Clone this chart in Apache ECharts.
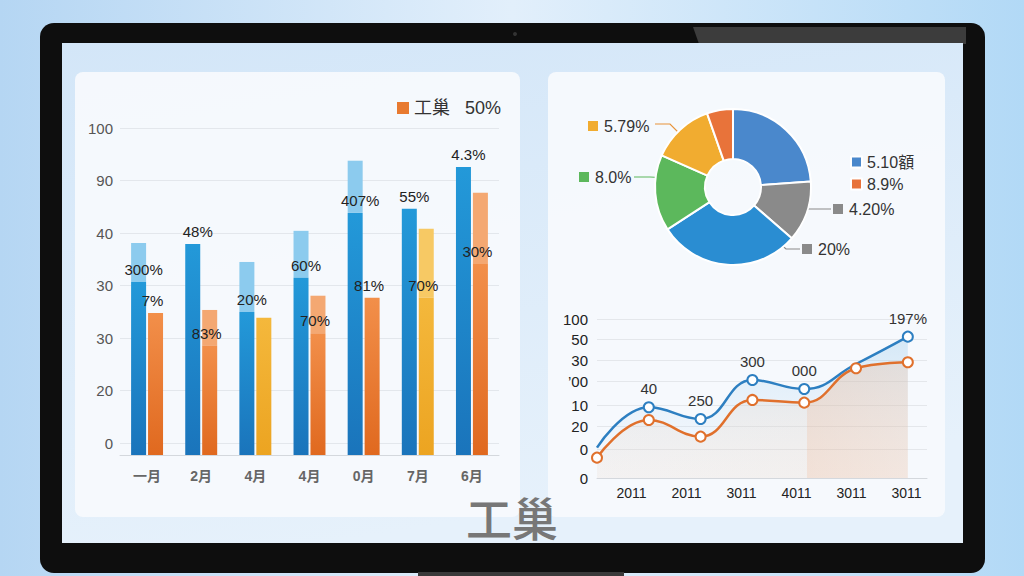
<!DOCTYPE html>
<html><head><meta charset="utf-8">
<script src="https://cdn.jsdelivr.net/npm/echarts@6/dist/echarts.min.js"></script>
<style>html,body{margin:0;padding:0;background:#c4e0f6;}#c{width:1024px;height:576px;}</style>
</head><body><div id="c"></div>
<script>
// ---------- data: bar chart ----------
const barCategories = ['一月','2月','4月','4月','0月','7月','6月'];
const barTickLabels = ['0','20','30','30','40','90','100'];
const blueBase   = [32.8, 40.0, 27.1, 33.6, 45.9, 46.7, 54.6];
const blueTop    = [7.4, 0, 9.5, 8.9, 9.9, 0, 0];
const orangeBase = [26.9, 20.7, 26.0, 23.1, 29.8, 29.8, 36.2];
const orangeTop  = [0, 6.8, 0, 7.1, 0, 13.1, 13.5];
const blueLabels   = ['300%','48%','20%','60%','407%','55%','4.3%'];
const orangeLabels = ['7%','83%','','70%','81%','70%','30%'];
const barLegendName = '工巢   50%';
// ---------- data: pie ----------
const pieNames  = ['5.10額','4.20%','20%','8.0%','5.79%','8.9%'];
const pieValues = [23.9, 12.6, 29.5, 15.8, 13.0, 5.4];
const pieLegendNames = ['5.10額','8.9%'];
// ---------- data: line ----------
const lineCategories = ['2011','2011','3011','4011','3011','3011'];
const lineTickValues = [0, 18.2, 32.3, 45.9, 61, 74.2, 87.2, 100];
const lineTickLabels = ['0','0','20','10','\u201900','30','50','100'];
const blueLine   = [19.1, 44.5, 37.1, 61.6, 56.0, 71.7, 88.9];
const orangeLine = [12.8, 36.5, 26.0, 49.1, 47.4, 69.0, 72.8];
const blueLineLabels = ['','40','250','300','000','15','197%'];
const titleText = '工巢';

// ---------- styles ----------
const FONT = "'Liberation Sans','Noto Sans CJK SC',sans-serif";
const yellowIdx = [2, 5];
const blueNoMarker = [0, 5];
function vg(a, b) { return new echarts.graphic.LinearGradient(0, 0, 0, 1, [{offset:0,color:a},{offset:1,color:b}]); }
const pieColors = ['#4a88cc','#8a8a8a','#2a8dd2','#5cb85c','#f1ac30','#e8733a'];
const pieSquare = ['#4a88cc','#8a8a8a','#8a8a8a','#5cb85c','#f1ac30','#e8733a'];
const pieLineColor = ['#999','#8a8a8a','#8a8a8a','#5cb85c','#e8943a','#999'];
const pieShow = [false, true, true, true, true, false];
const pieLabelPos = {
  1: {x:833, y:209, line:[[793,209],[812,209],[831,209]]},
  2: {x:802, y:249, line:[[769,234],[786,249],[800,249]]},
  3: {x:579, y:177, line:[[668,178],[650,177],[634,177]]},
  4: {x:588, y:126, line:[[687,141],[670,124],[655,124]]}
};
const pieRich = { t: {fontSize:16, color:'#333', padding:[0,0,0,6], fontFamily:FONT} };
pieSquare.forEach((c, i) => { pieRich['s' + i] = {width:10, height:10, backgroundColor:c}; });

const chart = echarts.init(document.getElementById('c'), null, {renderer:'svg'});
const option = {
  animation: false,
  backgroundColor: {type:'linear', x:0, y:0, x2:1, y2:0, colorStops:[
    {offset:0,color:'#b5d6f3'},{offset:0.5,color:'#e2effb'},{offset:1,color:'#b2d9f6'}]},
  graphic: [
    {type:'rect', z:-10, shape:{x:40, y:23, width:945, height:550, r:14}, style:{fill:'#0e0e0e'}},
    {type:'polygon', z:-9, shape:{points:[[693,27],[966,27],[966,44],[699,44]]}, style:{fill:'#3c3c3c'}},
    {type:'circle', z:-9, shape:{cx:515, cy:34, r:2}, style:{fill:'#333'}},
    {type:'rect', z:-9, shape:{x:62, y:43, width:901, height:500},
      style:{fill:{type:'linear', x:0, y:0, x2:0.3, y2:1, colorStops:[{offset:0,color:'#d3e6f8'},{offset:1,color:'#e6f1fb'}]}}},
    {type:'rect', z:-8, shape:{x:75, y:72, width:445, height:445, r:8}, style:{fill:'rgba(247,250,253,0.92)'}},
    {type:'rect', z:-8, shape:{x:548, y:72, width:397, height:445, r:8}, style:{fill:'rgba(247,250,253,0.92)'}},
    {type:'rect', z:-10, shape:{x:418, y:572, width:206, height:6}, style:{fill:'#3a3a3a'}}
  ],
  title: {text:titleText, left:'center', top:493, padding:0,
    textStyle:{fontSize:46, lineHeight:46, color:'#777', fontWeight:500, fontFamily:"'Noto Sans CJK SC',sans-serif"}},
  legend: [
    {data:[{name:barLegendName, itemStyle:{color:'#e87a30'}}], left:392, top:94, icon:'rect',
      itemWidth:12, itemHeight:12, selectedMode:false,
      textStyle:{fontSize:18, color:'#333', fontFamily:FONT}},
    {data:pieLegendNames, left:845, top:149, orient:'vertical', icon:'rect', itemWidth:11, itemHeight:11,
      itemGap:6, selectedMode:false, textStyle:{fontSize:16, color:'#333', fontFamily:FONT}}
  ],
  grid: [
    {left:120, right:525, top:128, bottom:133},
    {left:120, right:525, top:128, bottom:121},
    {left:597, right:97, top:319, bottom:98}
  ],
  xAxis: [
    {gridIndex:0, type:'category', data:barCategories, show:false},
    {gridIndex:1, type:'category', data:barCategories,
      axisLine:{lineStyle:{color:'#d4d8dd'}}, axisTick:{show:false},
      axisLabel:{margin:14, fontSize:14, color:'#666', fontWeight:'bold', fontFamily:FONT}},
    {gridIndex:2, type:'value', min:0, max:6.37, show:false, position:'top'},
    {gridIndex:2, type:'category', data:lineCategories, position:'bottom',
      axisLine:{lineStyle:{color:'#d4d8dd'}}, axisTick:{show:false},
      axisLabel:{margin:8, fontSize:14, color:'#222', padding:[0,0,0,14], fontFamily:FONT}}
  ],
  yAxis: [
    {gridIndex:0, type:'value', min:0, max:60, interval:10,
      axisLine:{show:false}, axisTick:{show:false},
      axisLabel:{margin:7, fontSize:15, color:'#555', fontFamily:FONT,
        formatter: v => barTickLabels[Math.round(v / 10)]},
      splitLine:{lineStyle:{color:'#e3e7ec'}}},
    {gridIndex:1, type:'value', min:0, max:62, show:false},
    {gridIndex:2, type:'value', min:0, max:100,
      axisLine:{show:false}, axisTick:{show:false, customValues:lineTickValues},
      axisLabel:{customValues:lineTickValues, margin:9, fontSize:15, color:'#222', fontFamily:FONT,
        formatter: v => lineTickLabels[lineTickValues.indexOf(v)]},
      splitLine:{lineStyle:{color:'#e4e7eb'}}}
  ],
  series: [
    {type:'bar', name:'blueBase', xAxisIndex:1, yAxisIndex:1, stack:'b', barWidth:15, barGap:'13%', z:3,
      data: blueBase, itemStyle:{color: vg('#2399d9','#1a74bb')},
      label:{show:true, position:'top', distance:5, offset:[5,0], fontSize:15, color:'#222', fontFamily:FONT,
        formatter: p => blueLabels[p.dataIndex]}},
    {type:'bar', name:'blueTop', xAxisIndex:1, yAxisIndex:1, stack:'b', barWidth:15, barGap:'13%',
      data: blueTop, itemStyle:{color:'#8ccbee'}},
    {type:'bar', name:barLegendName, xAxisIndex:1, yAxisIndex:1, stack:'o', barWidth:15, barGap:'13%', z:3,
      data: orangeBase.map((v, i) => ({value:v, itemStyle:{color: yellowIdx.includes(i) ? vg('#f4b83c','#eca421') : vg('#f28f4a','#e0691f')}})),
      label:{show:true, position:'top', distance:5, offset:[-3,0], fontSize:15, color:'#222', fontFamily:FONT,
        formatter: p => orangeLabels[p.dataIndex]}},
    {type:'bar', name:'orangeTop', xAxisIndex:1, yAxisIndex:1, stack:'o', barWidth:15, barGap:'13%',
      data: orangeTop.map((v, i) => ({value:v, itemStyle:{color: yellowIdx.includes(i) ? '#f7c964' : '#f4a872'}}))},
    {type:'pie', center:[733,187], radius:[28,78], startAngle:90, clockwise:true, avoidLabelOverlap:false,
      itemStyle:{borderColor:'#fff', borderWidth:2},
      data: pieValues.map((v, i) => ({name:pieNames[i], value:v, itemStyle:{color:pieColors[i]},
        label:{show:pieShow[i]}, labelLine:{show:pieShow[i], lineStyle:{color:pieLineColor[i], width:1.2}}})),
      label:{formatter: p => '{s' + p.dataIndex + '|}{t|' + p.name + '}', rich:pieRich},
      labelLayout: p => { const L = pieLabelPos[p.dataIndex]; if (!L) return {};
        return {x:L.x, y:L.y, align:'left', verticalAlign:'middle', labelLinePoints:L.line}; },
      emphasis:{disabled:true}},
    {type:'line', name:'lineB', xAxisIndex:2, yAxisIndex:2, smooth:0.45,
      data: blueLine.map((v, i) => ({value:[i, v], symbol: blueNoMarker.includes(i) ? 'none' : 'emptyCircle'})),
      symbolSize:10, lineStyle:{color:'#2d7fc1', width:2.5}, itemStyle:{color:'#2d7fc1', borderWidth:2},
      label:{show:true, position:'top', distance:5, fontSize:15, color:'#333', fontFamily:FONT,
        formatter: p => blueLineLabels[p.dataIndex]},
      areaStyle:{color: vg('rgba(150,200,235,0.5)','rgba(210,230,248,0.05)')}},
    {type:'line', name:'lineO', xAxisIndex:2, yAxisIndex:2, smooth:0.45,
      data: orangeLine.map((v, i) => [i, v]),
      symbol:'emptyCircle', symbolSize:10, lineStyle:{color:'#e0702c', width:2.5}, itemStyle:{color:'#e0702c', borderWidth:2},
      areaStyle:{color:{type:'linear', x:0, y:0, x2:1, y2:0, colorStops:[
        {offset:0,color:'rgba(235,205,180,0.22)'},{offset:0.675,color:'rgba(235,205,180,0.28)'},
        {offset:0.675,color:'rgba(236,175,135,0.45)'},{offset:1,color:'rgba(236,185,150,0.4)'}]}}}
  ]
};
chart.setOption(option);
</script></body></html>
